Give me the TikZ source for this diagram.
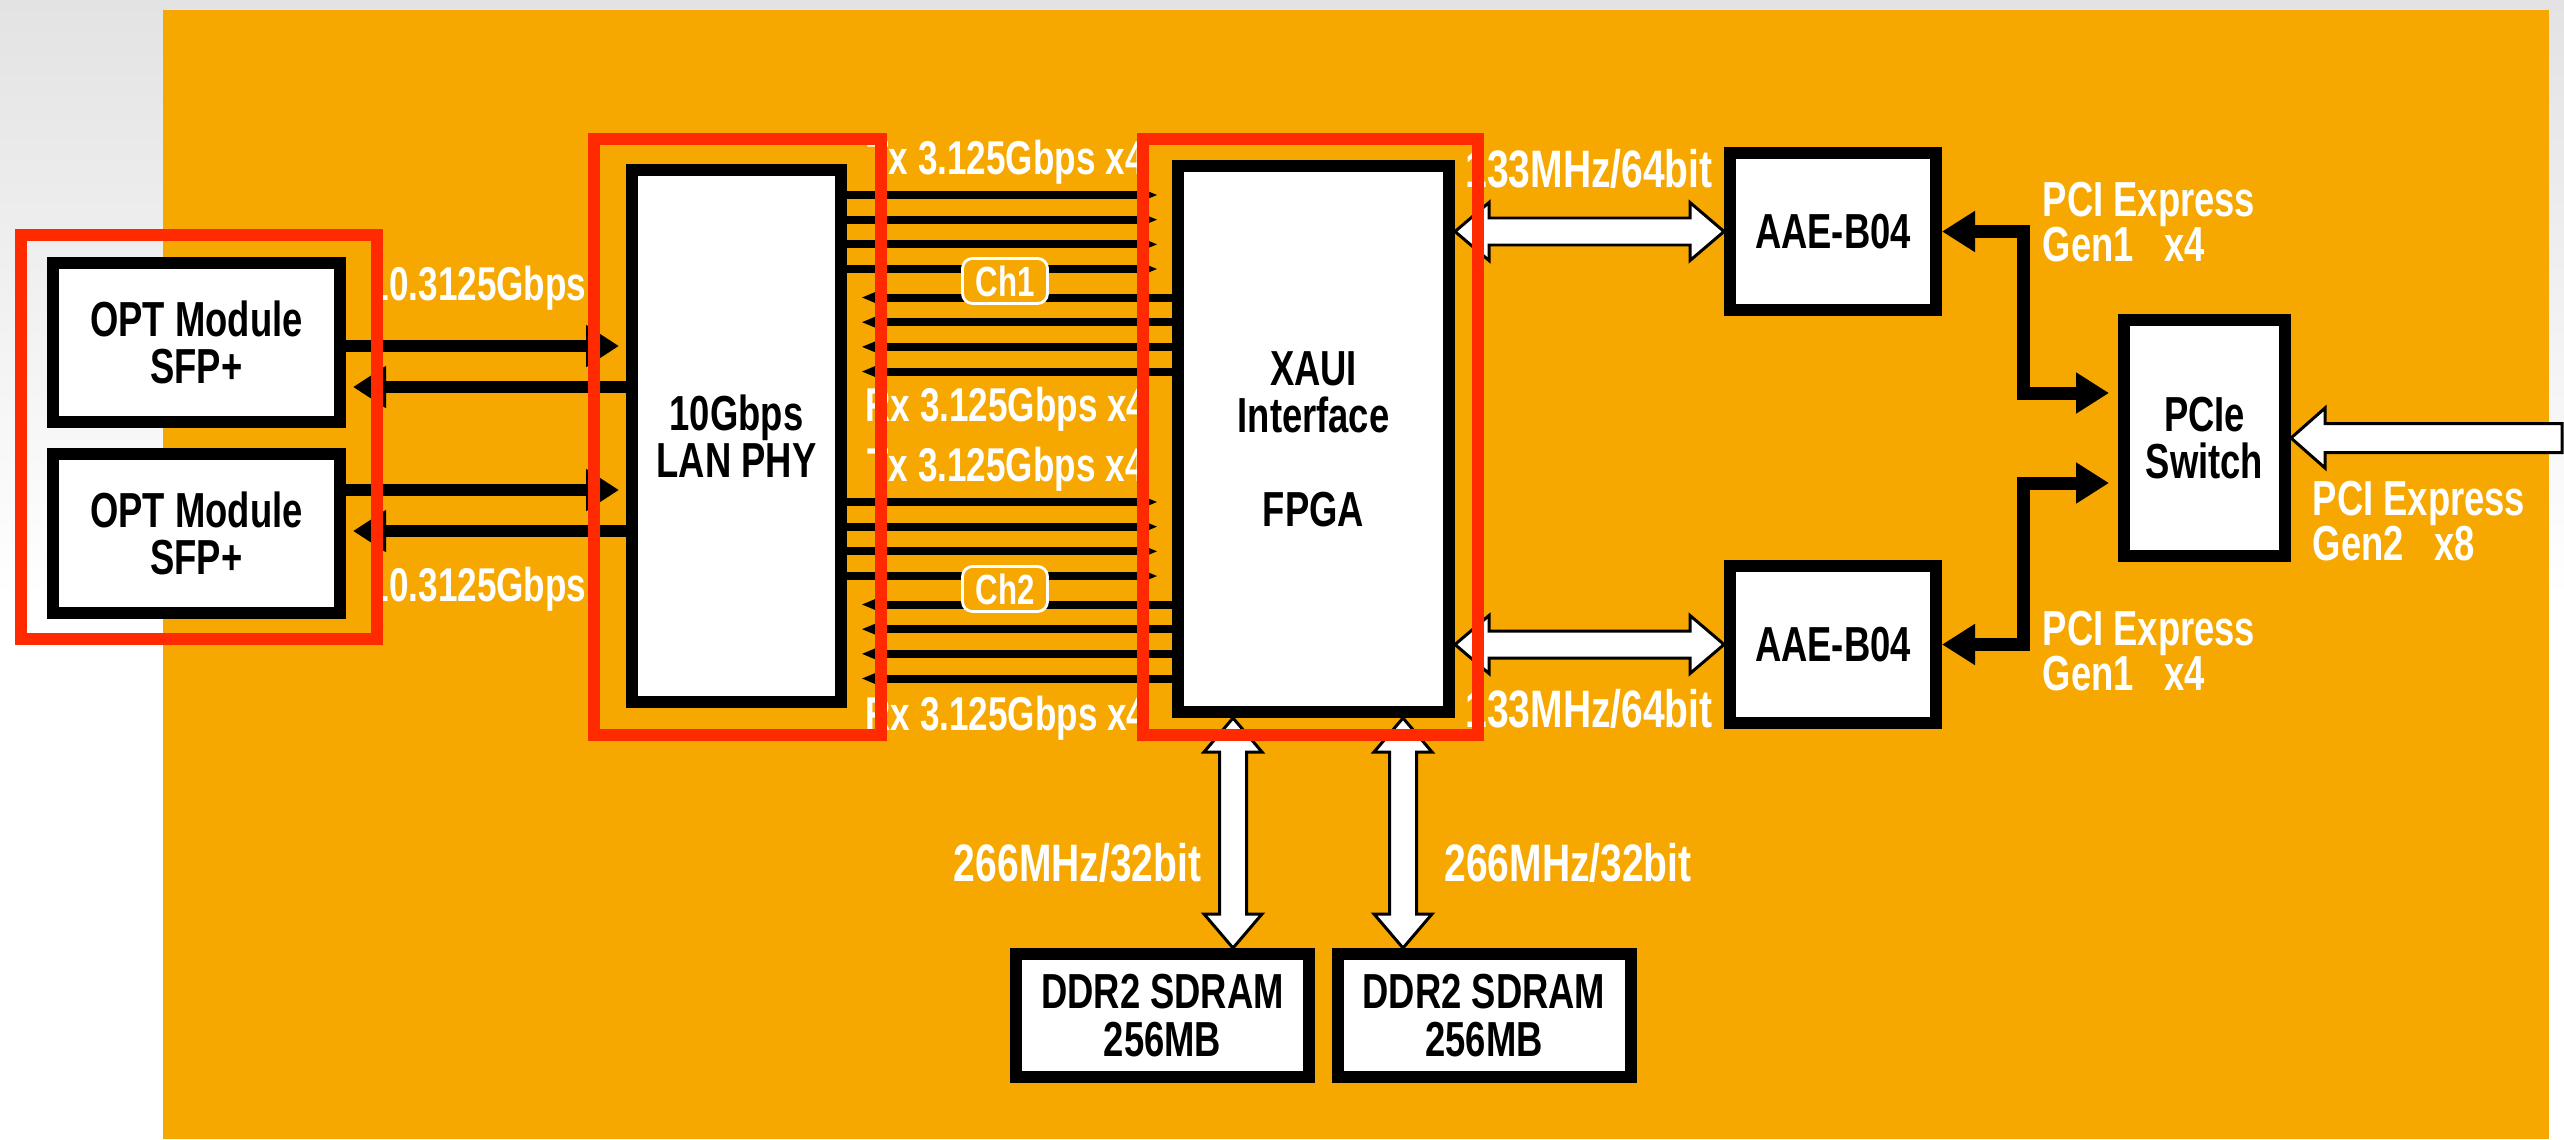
\documentclass[tikz,border=0pt]{standalone}
\usepackage{fontspec}
\setmainfont{Liberation Sans}[FakeStretch=0.74]
\usetikzlibrary{arrows.meta, calc}

\definecolor{boardorange}{RGB}{247,168,0}
\definecolor{hilitered}{RGB}{255,42,0}

\newcommand{\blockfont}{\fontsize{14}{13.4}\selectfont\bfseries}
\newcommand{\labelfont}{\fontsize{13.5}{13}\selectfont\bfseries}
\newcommand{\busfont}{\fontsize{15}{15}\selectfont\bfseries}
\newcommand{\pcifont}{\fontsize{14}{12.8}\selectfont\bfseries}

% hollow bus arrows (white with black outline)
\newcommand{\busarrowh}[2]{%
  \draw[fatarrow] let \p1=(#1), \p2=(#2) in
    (\x1,\y1) -- ++(3.4mm,2.9mm) -- ++(0,-1.55mm) -- ({\x2-3.4mm},{\y1+1.35mm})
    -- ++(0,1.55mm) -- (\x2,\y1) -- ++(-3.4mm,-2.9mm) -- ++(0,1.55mm)
    -- ({\x1+3.4mm},{\y1-1.35mm}) -- ++(0,-1.55mm) -- cycle;}
\newcommand{\busarrowv}[2]{%
  \draw[fatarrow] let \p1=(#1), \p2=(#2) in
    (\x1,\y1) -- ++(2.9mm,-3.4mm) -- ++(-1.55mm,0) -- ({\x1+1.35mm},{\y2+3.4mm})
    -- ++(1.55mm,0) -- (\x1,\y2) -- ++(-2.9mm,3.4mm) -- ++(1.55mm,0)
    -- ({\x1-1.35mm},{\y1-3.4mm}) -- ++(-1.55mm,0) -- cycle;}
\newcommand{\busarrowin}[2]{%
  \draw[fatarrow] let \p1=(#1), \p2=(#2) in
    (\x2,\y1) -- ++(3.4mm,3mm) -- ++(0,-1.55mm) -- (\x1,{\y1+1.45mm})
    -- (\x1,{\y1-1.45mm}) -- ({\x2+3.4mm},{\y1-1.45mm}) -- ++(0,-1.55mm) -- cycle;}

\begin{document}
\begin{tikzpicture}[
    block/.style={draw=black, fill=white, line width=0.12cm, inner sep=0pt, align=center, font=\blockfont},
    lbl/.style={text=white, inner sep=0pt, font=\labelfont},
    chbox/.style={draw=white, fill=boardorange, rounded corners=0.1cm, line width=0.8pt, text=white,
        inner sep=0pt, minimum width=0.85cm, minimum height=0.45cm, font=\fontsize{12}{12}\selectfont\bfseries},
    optlink/.style={line width=0.125cm, -{Triangle[length=0.33cm, width=0.40cm]}, shorten >=0.07cm},
    lane/.style={line width=0.08cm, -{Triangle[length=0.2cm, width=0.14cm]}, shorten >=0.14cm},
    pcielink/.style={line width=0.13cm, {Triangle[length=0.33cm, width=0.39cm]}-{Triangle[length=0.33cm, width=0.39cm]}},
    fatarrow/.style={draw=black, fill=white, line width=0.85pt},
    hilite/.style={draw=hilitered, line width=0.12cm}
]

% Background
\useasboundingbox (0,0) rectangle (25.64,11.39);
\fill[white] (0,0) rectangle (25.64,11.39);
\shade[top color=gray!22, bottom color=white] (0,5.4) rectangle (25.64,11.39);
\fill[boardorange] (1.63,0) rectangle (25.49,11.29);

% Blocks
\node[block, minimum width=2.87cm, minimum height=1.59cm] (opt1) at (1.965,7.965) {OPT Module\\SFP+};
\node[block, minimum width=2.87cm, minimum height=1.59cm] (opt2) at (1.965,6.055) {OPT Module\\SFP+};
\node[block, minimum width=2.09cm, minimum height=5.32cm] (lan) at (7.365,7.03) {10Gbps\\LAN PHY};
\node[block, minimum width=2.71cm, minimum height=5.46cm] (fpga) at (13.135,7.00) {XAUI\\Interface\\[13.4pt]FPGA};
\node[block, minimum width=2.06cm, minimum height=1.57cm] (aae1) at (18.33,9.075) {AAE-B04};
\node[block, minimum width=2.06cm, minimum height=1.57cm] (aae2) at (18.33,4.945) {AAE-B04};
\node[block, minimum width=1.61cm, minimum height=2.36cm] (pcie) at (22.045,7.01) {PCIe\\Switch};
\node[block, minimum width=2.93cm, minimum height=1.23cm] (ddr1) at (11.625,1.235) {DDR2 SDRAM\\256MB};
\node[block, minimum width=2.93cm, minimum height=1.23cm] (ddr2) at (14.84,1.235) {DDR2 SDRAM\\256MB};

% SFP+ <-> PHY
\draw[optlink] (opt1.east |- 0,7.93) -- (lan.west |- 0,7.93);
\draw[optlink] (lan.west |- 0,7.52) -- (opt1.east |- 0,7.52);
\draw[optlink] (opt2.east |- 0,6.49) -- (lan.west |- 0,6.49);
\draw[optlink] (lan.west |- 0,6.08) -- (opt2.east |- 0,6.08);

% XAUI lanes, 4 Tx + 4 Rx per channel
\foreach \ytop in {9.44, 6.37} {
  \foreach \k in {0,...,3} {
    \pgfmathsetmacro{\ytx}{\ytop-0.2467*\k}
    \pgfmathsetmacro{\yrx}{\ytop-1.025-0.2467*\k}
    \draw[lane] (lan.east |- 0,\ytx) -- (fpga.west |- 0,\ytx);
    \draw[lane] (fpga.west |- 0,\yrx) -- (lan.east |- 0,\yrx);
  }
}
\node[chbox] (ch1) at (10.05,8.58) {Ch1};
\node[chbox] (ch2) at (10.05,5.50) {Ch2};

% PCIe links
\draw[pcielink, shorten >=0.09cm] (aae1.east) -- ++(0.81,0) |- ([yshift=0.45cm]pcie.west);
\draw[pcielink, shorten >=0.09cm] (aae2.east) -- ++(0.81,0) |- ([yshift=-0.45cm]pcie.west);

% Buses
\busarrowh{fpga.east |- aae1}{aae1.west}
\busarrowh{fpga.east |- aae2}{aae2.west}
\coordinate (mem1) at ([xshift=-0.805cm]fpga.south);
\coordinate (mem2) at ([xshift=0.895cm]fpga.south);
\busarrowv{mem1}{ddr1.north -| mem1}
\busarrowv{mem2}{ddr2.north -| mem2}
\coordinate (host) at (25.62,7.01);
\busarrowin{host}{pcie.east}

% Labels
\node[lbl] (sfprate1) at (4.78,8.51) {10.3125Gbps};
\node[lbl] (sfprate2) at (4.78,5.50) {10.3125Gbps};
\node[lbl] (txa) at (10.06,9.77) {Tx 3.125Gbps x4};
\node[lbl] (rxa) at (10.06,7.30) {Rx 3.125Gbps x4};
\node[lbl] (txb) at (10.06,6.70) {Tx 3.125Gbps x4};
\node[lbl] (rxb) at (10.06,4.21) {Rx 3.125Gbps x4};
\node[lbl, font=\busfont] (busa) at (15.89,9.70) {133MHz/64bit};
\node[lbl, font=\busfont] (busb) at (15.89,4.30) {133MHz/64bit};
\node[lbl, font=\busfont] (mema) at (10.775,2.76) {266MHz/32bit};
\node[lbl, font=\busfont] (memb) at (15.68,2.76) {266MHz/32bit};
\node[lbl, anchor=west, align=left, font=\pcifont] (gen1a) at (20.42,9.165) {PCI Express\\Gen1~~~x4};
\node[lbl, anchor=west, align=left, font=\pcifont] (gen1b) at (20.42,4.875) {PCI Express\\Gen1~~~x4};
\node[lbl, anchor=west, align=left, font=\pcifont] (gen2) at (23.12,6.175) {PCI Express\\Gen2~~~x8};

% Highlights
\draw[hilite] (0.21,5.00) rectangle (3.77,9.04);
\draw[hilite] (5.94,4.04) rectangle (8.81,10.00);
\draw[hilite] (11.43,4.04) rectangle (14.78,10.00);

\end{tikzpicture}
\end{document}
